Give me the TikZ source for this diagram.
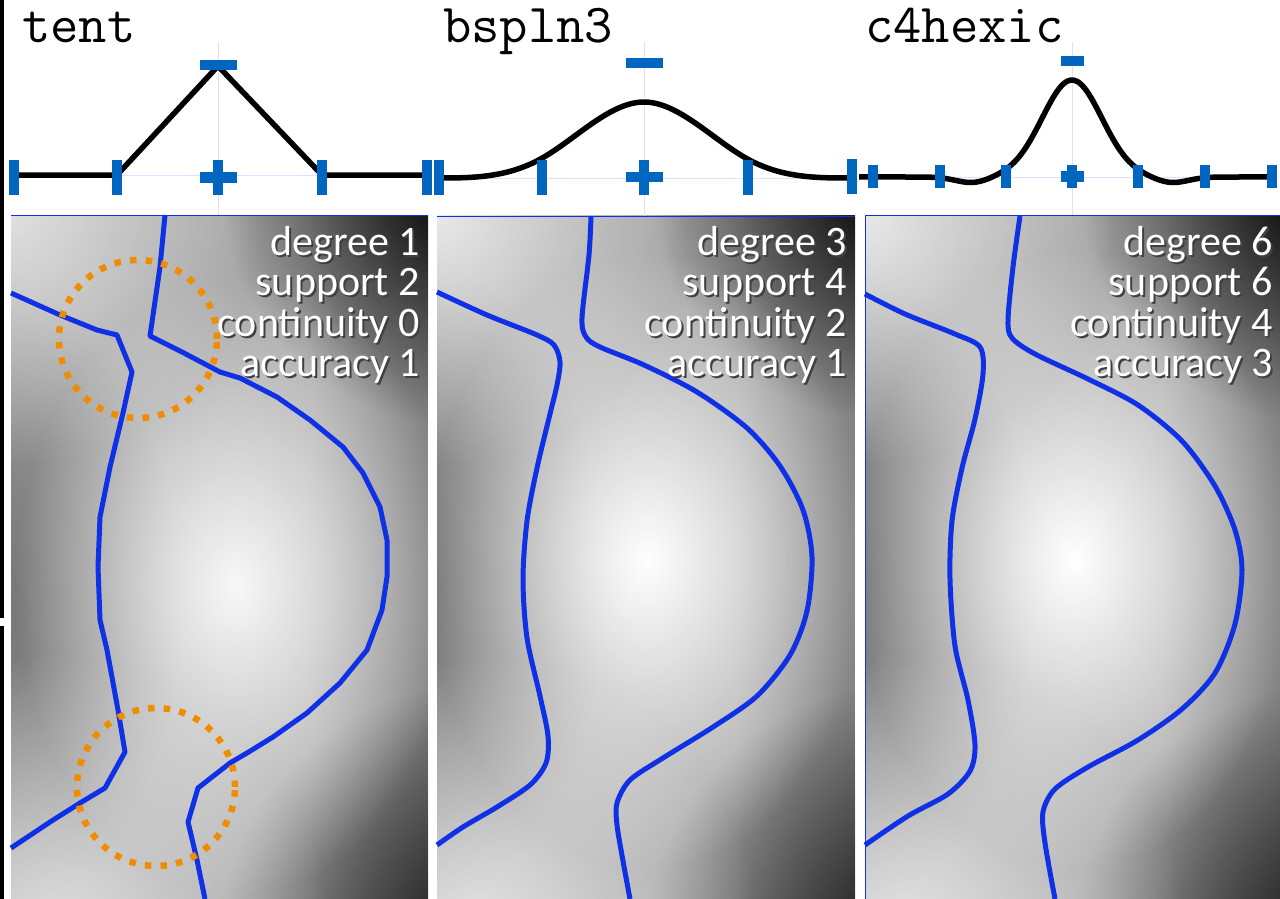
\documentclass[tikz,border=0pt]{standalone}
\usepackage{fontspec}
\newfontfamily\lblfont{Carlito}
\usetikzlibrary{fadings}
\definecolor{tick_blue}{RGB}{0, 102, 192}
\definecolor{iso_blue}{RGB}{16, 48, 230}
\definecolor{dot_orange}{RGB}{240, 140, 0}
\definecolor{grid_lilac}{RGB}{222, 224, 255}
\definecolor{bg_gray}{RGB}{165, 165, 165}
\tikzfading[name=fz, inner color=transparent!0, outer color=transparent!100]
\tikzfading[name=fr, left color=transparent!100, right color=transparent!0]
\newcommand{\shd}[1]{\rlap{\hspace{2pt}\raisebox{-2pt}{\textcolor{black!75}{#1}}}#1}
\tikzstyle{tk}=[rectangle,fill=tick_blue,inner sep=0pt,minimum width=10.5pt,minimum height=35pt]
\tikzstyle{stk}=[tk,minimum height=23pt]
\tikzstyle{mn}=[rectangle,fill=tick_blue,inner sep=0pt,minimum width=37pt,minimum height=10.5pt]
\tikzstyle{smn}=[mn,minimum width=23pt]
\tikzstyle{kern}=[line width=5.5pt,black,line join=round]
\tikzstyle{gl}=[line width=1pt,grid_lilac]
\tikzstyle{iso}=[line width=5pt,iso_blue,line join=round]
\tikzstyle{ring}=[line width=6.5pt,dot_orange,dash pattern=on 6.5pt off 9.2pt]
\tikzstyle{ttl}=[anchor=base west,inner sep=0pt,font=\ttfamily\fontsize{55}{55}\selectfont]
\tikzstyle{info}=[anchor=north east,align=right,inner sep=0pt,text=white,
  font=\lblfont\fontsize{42}{40.5}\selectfont]
\tikzstyle{rim}=[line width=1pt,iso_blue]

\begin{document}
\begin{tikzpicture}[x=1pt, y=-1pt,
  declare function={bsp(\t)=(abs(\t)<1)*(2/3-\t*\t+abs(\t)*abs(\t)*abs(\t)/2)
    +and(abs(\t)>=1,abs(\t)<2)*(2-abs(\t))*(2-abs(\t))*(2-abs(\t))/6;
    hxk(\t)=exp(-\t*\t/0.405)-0.06*exp(-(abs(\t)-1.5)*(abs(\t)-1.5)/0.12);}]
		\useasboundingbox (0,0) rectangle (1280,899);
		\fill [black] (0,0) rectangle (4,618);
		\fill [black] (0,626) rectangle (4,899);
		\begin{scope}[shift={(11,215)}]
			\clip (0,0) rectangle (417,684);
			\fill [bg_gray] (0,0) rectangle (417,684);
			\fill [black, path fading=fr, fill opacity=0.2] (300,0) rectangle (417,684);
			\fill [black, path fading=fz] (450,-30) circle (240pt);
			\fill [black, path fading=fz, fill opacity=0.85] (470,730) circle (260pt);
			\fill [black, path fading=fz, fill opacity=0.33] (-40,390) ellipse (210pt and 330pt);
			\fill [white, path fading=fz, fill opacity=0.65] (0,0) circle (250pt);
			\fill [white, path fading=fz, fill opacity=0.65] (40,720) circle (280pt);
			\fill [white, path fading=fz, fill opacity=0.92] (225,370) ellipse (220pt and 310pt);
		\end{scope}
		\begin{scope}[shift={(437,215)}]
			\clip (0,0) rectangle (418,684);
			\fill [bg_gray] (0,0) rectangle (418,684);
			\fill [black, path fading=fr, fill opacity=0.2] (300,0) rectangle (418,684);
			\fill [black, path fading=fz] (450,-30) circle (235pt);
			\fill [black, path fading=fz, fill opacity=0.85] (470,730) circle (260pt);
			\fill [black, path fading=fz, fill opacity=0.32] (-40,370) ellipse (210pt and 330pt);
			\fill [white, path fading=fz, fill opacity=0.75] (0,0) circle (250pt);
			\fill [white, path fading=fz, fill opacity=0.7] (40,720) circle (280pt);
			\fill [white, path fading=fz] (210,345) ellipse (220pt and 310pt);
		\end{scope}
		\begin{scope}[shift={(865,215)}]
			\clip (0,0) rectangle (415,684);
			\fill [bg_gray] (0,0) rectangle (415,684);
			\fill [black, path fading=fr, fill opacity=0.2] (300,0) rectangle (415,684);
			\fill [black, path fading=fz] (450,-30) circle (235pt);
			\fill [black, path fading=fz, fill opacity=0.85] (470,730) circle (260pt);
			\fill [black, path fading=fz, fill opacity=0.32] (-40,370) ellipse (210pt and 330pt);
			\fill [white, path fading=fz, fill opacity=0.75] (0,0) circle (250pt);
			\fill [white, path fading=fz, fill opacity=0.7] (40,720) circle (280pt);
			\fill [white, path fading=fz] (210,345) ellipse (220pt and 310pt);
		\end{scope}
		\draw [rim] (11,215) -- (428,215);
		\draw [rim] (437,216) -- (855,216);
		\draw [rim] (865,899) -- (865,215) -- (1280,215);
		\draw [gl] (218,42) -- (218,215);
		\draw [gl] (644,42) -- (644,216);
		\draw [gl] (1072,42) -- (1072,215);
		\draw [gl] (14,175) -- (425,175);
		\draw [gl] (439,178) -- (853,178);
		\draw [gl] (873,177) -- (1272,177);
		\node [style=ttl] (0) at (22,43) {tent};
		\node [style=ttl] (1) at (443,43) {bspln3};
		\node [style=ttl] (2) at (865,43) {c4hexic};
		\draw [kern] (14,175) -- (117,175) -- (218,66) -- (322,175) -- (425,175);
		\draw [kern] plot [domain=-2:2, samples=81, smooth] ({644+103.5*\x}, {178-114*bsp(\x)});
		\draw [kern] plot [domain=-3.2:3.05, samples=121, smooth] ({1072+66.5*\x}, {177-97*hxk(\x)});
		\node [style=tk] (3) at (14,177.5) {};
		\node [style=tk] (4) at (117,177.5) {};
		\node [style=tk] (5) at (218,177.5) {};
		\node [style=mn] (6) at (218,177.5) {};
		\node [style=tk] (7) at (322,177.5) {};
		\node [style=tk] (8) at (427,177.5) {};
		\node [style=mn] (9) at (218,65) {};
		\node [style=tk] (10) at (439,177) {};
		\node [style=tk] (11) at (542,177) {};
		\node [style=tk] (12) at (644,177) {};
		\node [style=mn] (13) at (644,177) {};
		\node [style=tk] (14) at (748,177) {};
		\node [style=tk] (15) at (852,176) {};
		\node [style=mn] (16) at (644,63) {};
		\node [style=stk] (17) at (873,176.5) {};
		\node [style=stk] (18) at (940,176.5) {};
		\node [style=stk] (19) at (1006,176.5) {};
		\node [style=stk] (20) at (1072,176.5) {};
		\node [style=smn] (21) at (1072,176.5) {};
		\node [style=stk] (22) at (1138,176.5) {};
		\node [style=stk] (23) at (1205,176.5) {};
		\node [style=stk] (24) at (1272,176.5) {};
		\node [style=smn] (25) at (1072,61) {};
		\draw [iso] (165,215) -- (160,267) -- (150,336) -- (182,352) -- (220,372) -- (240,378)
			-- (277,397) -- (310,420) -- (343,447) -- (363,473) -- (380,507) -- (387,540)
			-- (387,577) -- (382,610) -- (367,650) -- (340,683) -- (307,713) -- (273,737)
			-- (247,753) -- (230,763) -- (198,788) -- (188,822) -- (197,860) -- (205,899);
		\draw [iso] (11,293) -- (60,315) -- (97,330) -- (117,335) -- (132,372) -- (123,413)
			-- (110,467) -- (100,517) -- (98,567) -- (100,620) -- (107,650) -- (118,710)
			-- (125,752) -- (105,788) -- (80,803) -- (50,822) -- (11,848);
		\draw [ring] (138,339) circle (79pt);
		\draw [ring] (156,787) circle (79pt);
		\draw [iso] plot [smooth, tension=0.5] coordinates {(591,216) (589,255) (582,318)
			(586,337) (600,347) (644,365) (697,392) (747,428) (780,466) (803,510) (812,557)
			(807,611) (790,655) (757,696) (713,727) (663,758) (630,780) (617,803) (617,825)
			(623,861) (630,899)};
		\draw [iso] plot [smooth, tension=0.5] coordinates {(437,292) (487,315) (537,335)
			(554,345) (560,362) (557,385) (550,414) (537,468) (527,521) (523,579) (527,638)
			(540,696) (548,736) (546,763) (530,785) (497,807) (463,827) (437,845)};
		\draw [iso] plot [smooth, tension=0.5] coordinates {(1020,216) (1013,267) (1008,320)
			(1012,338) (1035,354) (1088,379) (1138,405) (1182,441) (1215,486) (1235,530)
			(1242,570) (1235,624) (1215,673) (1182,709) (1138,740) (1088,767) (1055,789)
			(1043,812) (1045,843) (1055,899)};
		\draw [iso] plot [smooth, tension=0.5] coordinates {(865,294) (905,314) (955,334)
			(980,347) (983,374) (975,419) (962,468) (952,521) (950,579) (955,646) (968,700)
			(975,745) (970,771) (948,794) (908,816) (865,845)};
		\node [style=info] (26) at (420,226) {\shd{degree 1}\\\shd{support 2}\\\shd{continuity 0}\\\shd{accuracy 1}};
		\node [style=info] (27) at (847,226) {\shd{degree 3}\\\shd{support 4}\\\shd{continuity 2}\\\shd{accuracy 1}};
		\node [style=info] (28) at (1273,226) {\shd{degree 6}\\\shd{support 6}\\\shd{continuity 4}\\\shd{accuracy 3}};
\end{tikzpicture}
\end{document}
